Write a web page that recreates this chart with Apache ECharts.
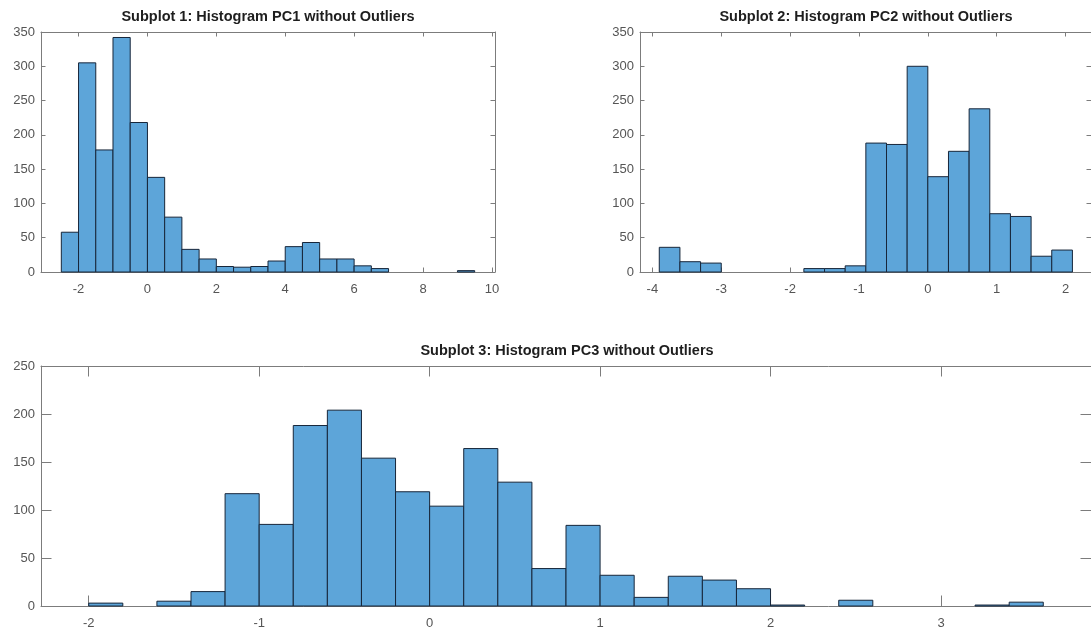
<!DOCTYPE html>
<html>
<head>
<meta charset="utf-8">
<script src="https://cdn.jsdelivr.net/npm/echarts@6/dist/echarts.min.js"></script>
<style>
  html, body { margin: 0; padding: 0; background: #ffffff; }
  #chart { width: 1091px; height: 633px; }
</style>
</head>
<body>
<div id="chart"></div>
<script>
// Histogram counts per bin; bins are contiguous, given by first edge and width
const pc1Counts = [58, 305, 178, 342, 218, 138, 80, 33, 19, 8, 7, 8, 16, 37, 43, 19, 19, 9, 5, 0, 0, 0, 0, 2];
const pc1BinStart = -2.5;
const pc1BinWidth = 0.5;

const pc2Counts = [36, 15, 13, 0, 0, 0, 0, 5, 5, 9, 188, 186, 300, 139, 176, 238, 85, 81, 23, 32];
const pc2BinStart = -3.9;
const pc2BinWidth = 0.3;

const pc3Counts = [3, 0, 5, 15, 117, 85, 188, 204, 154, 119, 104, 164, 129, 39, 84, 32, 9, 31, 27, 18, 1, 0, 6, 0, 0, 0, 1, 4];
const pc3BinStart = -2.0;
const pc3BinWidth = 0.2;

// Tick labels
const pc1XTicks = [-2, 0, 2, 4, 6, 8, 10];
const pc2XTicks = [-4, -3, -2, -1, 0, 1, 2];
const pc3XTicks = [-2, -1, 0, 1, 2, 3];
const pc12YTicks = [0, 50, 100, 150, 200, 250, 300, 350];
const pc3YTicks = [0, 50, 100, 150, 200, 250];

const titles = [
  'Subplot 1: Histogram PC1 without Outliers',
  'Subplot 2: Histogram PC2 without Outliers',
  'Subplot 3: Histogram PC3 without Outliers'
];

function toBins(counts, start, width) {
  return counts.map((c, i) => [
    +(start + i * width).toFixed(6),
    +(start + (i + 1) * width).toFixed(6),
    c
  ]);
}

const axisColor = '#7c7c7c';
const labelColor = '#555555';
const barFill = '#5da5d9';
const barEdge = '#17263a';
const fontFamily = '"Liberation Sans", Arial, Helvetica, sans-serif';

const panels = [
  { grid: { left: 41, top: 32, width: 454, height: 240 }, xMin: -3.09, xMax: 10.09,
    yMax: 350, xTicks: pc1XTicks, yTicks: pc12YTicks, tickLen: 4.5,
    bins: toBins(pc1Counts, pc1BinStart, pc1BinWidth), title: titles[0], titleY: 9 },
  { grid: { left: 640, top: 32, width: 452, height: 240 }, xMin: -4.18, xMax: 2.37,
    yMax: 350, xTicks: pc2XTicks, yTicks: pc12YTicks, tickLen: 4.5,
    bins: toBins(pc2Counts, pc2BinStart, pc2BinWidth), title: titles[1], titleY: 9 },
  { grid: { left: 41, top: 366, width: 1052, height: 240 }, xMin: -2.28, xMax: 3.88,
    yMax: 250, xTicks: pc3XTicks, yTicks: pc3YTicks, tickLen: 10.5,
    bins: toBins(pc3Counts, pc3BinStart, pc3BinWidth), title: titles[2], titleY: 343 }
];

const grids = [], xAxes = [], yAxes = [], series = [], texts = [];

panels.forEach((p, i) => {
  grids.push(Object.assign({ containLabel: false }, p.grid));

  const lineStyle = { color: axisColor, width: 1 };
  const tickStyle = { color: axisColor, width: 1 };
  const labelStyle = { color: labelColor, fontSize: 13, fontFamily: fontFamily };

  ['bottom', 'top'].forEach((pos) => {
    xAxes.push({
      type: 'value', gridIndex: i, position: pos, min: p.xMin, max: p.xMax,
      axisLine: { show: true, onZero: false, lineStyle: lineStyle },
      axisTick: { show: true, inside: true, length: p.tickLen, customValues: p.xTicks, lineStyle: tickStyle },
      axisLabel: Object.assign({ show: pos === 'bottom', customValues: p.xTicks, margin: 11 }, labelStyle),
      splitLine: { show: false }
    });
  });

  ['left', 'right'].forEach((pos) => {
    yAxes.push({
      type: 'value', gridIndex: i, position: pos, min: 0, max: p.yMax,
      axisLine: { show: true, onZero: false, lineStyle: lineStyle },
      axisTick: { show: true, inside: true, length: p.tickLen, customValues: p.yTicks, lineStyle: tickStyle },
      axisLabel: Object.assign({ show: pos === 'left', customValues: p.yTicks, margin: 6 }, labelStyle),
      splitLine: { show: false }
    });
  });

  series.push({
    type: 'custom',
    xAxisIndex: 2 * i,
    yAxisIndex: 2 * i,
    encode: { x: [0, 1], y: 2 },
    data: p.bins,
    renderItem: function (params, api) {
      const count = api.value(2);
      if (!count) return null;
      const topLeft = api.coord([api.value(0), count]);
      const bottomRight = api.coord([api.value(1), 0]);
      return {
        type: 'rect',
        shape: {
          x: topLeft[0], y: topLeft[1],
          width: bottomRight[0] - topLeft[0],
          height: bottomRight[1] - topLeft[1]
        },
        style: { fill: barFill, stroke: barEdge, lineWidth: 1 }
      };
    }
  });

  texts.push({
    type: 'text',
    x: p.grid.left + p.grid.width / 2,
    y: p.titleY,
    style: {
      text: p.title,
      textAlign: 'center',
      textVerticalAlign: 'top',
      fill: '#1e1e1e',
      font: 'bold 14.5px ' + fontFamily
    }
  });
});

const chart = echarts.init(document.getElementById('chart'), null, { renderer: 'canvas' });
chart.setOption({
  animation: false,
  backgroundColor: '#ffffff',
  grid: grids,
  xAxis: xAxes,
  yAxis: yAxes,
  series: series,
  graphic: texts
});
</script>
</body>
</html>
